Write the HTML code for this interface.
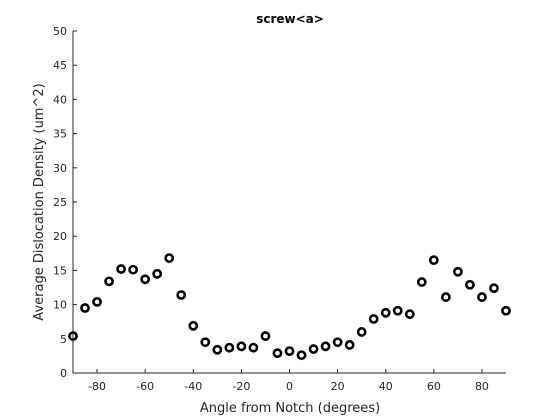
<!DOCTYPE html>
<html><head><meta charset="utf-8"><style>
body{margin:0;background:#fff;}
svg{display:block;font-family:"DejaVu Sans","Liberation Sans",sans-serif;}
</style></head><body>
<svg id="chart" width="560" height="420">
<rect width="560" height="420" fill="#fff"/>
<text x="290" y="23" text-anchor="middle" font-size="12" font-weight="bold" fill="#000">screw&lt;a&gt;</text>
<g id="axes"></g>
<g id="marks"></g>
<text x="290" y="412" text-anchor="middle" font-size="13" fill="#262626">Angle from Notch (degrees)</text>
<text transform="translate(43,202) rotate(-90)" text-anchor="middle" font-size="13" fill="#262626">Average Dislocation Density (um^2)</text>
</svg>
<script>
const angles = [-90,-85,-80,-75,-70,-65,-60,-55,-50,-45,-40,-35,-30,-25,-20,-15,-10,-5,0,5,10,15,20,25,30,35,40,45,50,55,60,65,70,75,80,85,90];
const densities = [5.4,9.5,10.4,13.4,15.2,15.1,13.7,14.5,16.8,11.4,6.9,4.5,3.4,3.7,3.9,3.7,5.4,2.9,3.2,2.6,3.5,3.9,4.5,4.1,6.0,7.9,8.8,9.1,8.6,13.3,16.5,11.1,14.8,12.9,11.1,12.4,9.1];
const xTicks = [-80,-60,-40,-20,0,20,40,60,80];
const yTicks = [0,5,10,15,20,25,30,35,40,45,50];
const L=73,R=506,T=31,B=373;
const xs=v=>L+(v+90)/180*(R-L);
const ys=v=>B-v/50*(B-T);
const NS="http://www.w3.org/2000/svg";
const axes=document.getElementById('axes'), marks=document.getElementById('marks');
function mk(tag,attrs,parent){const e=document.createElementNS(NS,tag);for(const k in attrs)e.setAttribute(k,attrs[k]);parent.appendChild(e);return e;}
const xl=mk('line',{x1:L,y1:B,x2:R,y2:B,stroke:'#262626'},axes);


const yl=mk('line',{x1:L,y1:T,x2:L,y2:B,stroke:'#262626'},axes);


xTicks.forEach(t=>{
  mk('line',{x1:xs(t),y1:B,x2:xs(t),y2:B-4,stroke:'#262626'},axes);
  const tx=mk('text',{x:xs(t),y:B+17,'text-anchor':'middle','font-size':11,fill:'#262626'},axes);
  tx.textContent=t;
  
  
});
yTicks.forEach(t=>{
  mk('line',{x1:L,y1:ys(t),x2:L+4,y2:ys(t),stroke:'#262626'},axes);
  const tx=mk('text',{x:L-6,y:ys(t)+4,'text-anchor':'end','font-size':11,fill:'#262626'},axes);
  tx.textContent=t;
  
  
});
angles.forEach((a,i)=>{
  const c=mk('circle',{cx:xs(a),cy:ys(densities[i]),r:3.6,fill:'none',stroke:'#000','stroke-width':2.6},marks);
  
  
});
</script>
</body></html>
